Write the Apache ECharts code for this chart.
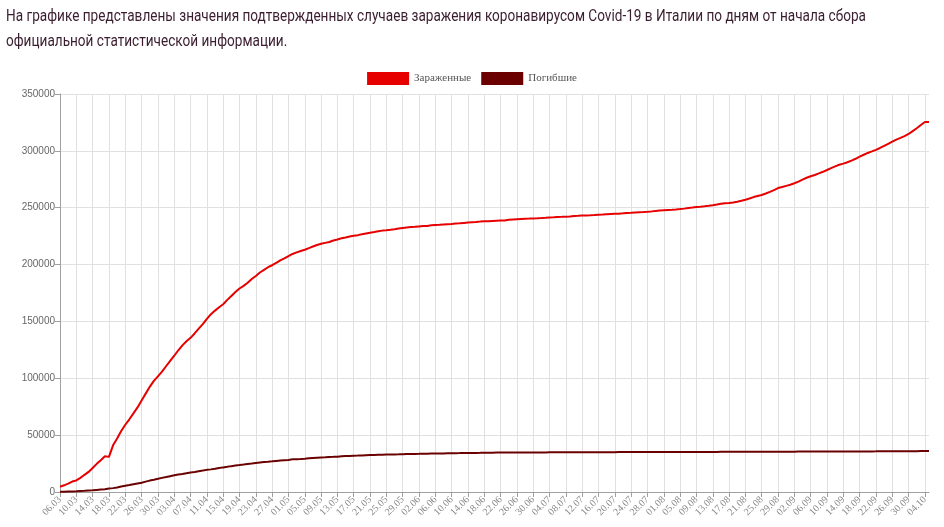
<!DOCTYPE html>
<html>
<head>
<meta charset="utf-8">
<script src="https://cdn.jsdelivr.net/npm/echarts@6/dist/echarts.min.js"></script>
<style>
html,body{margin:0;padding:0;background:#fff;}
.tline{position:absolute;left:6px;white-space:nowrap;font-family:"Roboto","Noto Sans",sans-serif;font-size:17px;line-height:25px;color:#3a1d2e;transform-origin:0 0;}
#t1{top:3px;}
#t2{top:28px;}
#chart{position:absolute;left:0;top:0;width:944px;height:527px;}
</style>
</head>
<body>
<div id="chart"></div>
<div id="t1" class="tline">На графике представлены значения подтвержденных случаев заражения коронавирусом Covid-19 в Италии по дням от начала сбора</div>
<div id="t2" class="tline">официальной статистической информации.</div>
<script>
const seriesNames = ['Зараженные', 'Погибшие'];
const startDate = '2020-03-06';
const dayCount = 214;
const yTicks = [0, 50000, 100000, 150000, 200000, 250000, 300000, 350000];

const infected = [
  4636, 5883, 7375, 9172, 10149, 12462, 15113, 17660, 21157, 24747, 27980, 31506, 30900, 41035, 47021, 53578, 59138, 63927, 69176, 74386, 80539, 86498, 92472, 97689, 101739, 105792,
  110574, 115242, 119827, 124632, 128948, 132547, 135586, 139422, 143626, 147577, 152271, 156363, 159516, 162488, 165155, 168941, 172434, 175925, 178972, 181228, 183957, 187327, 189973, 192994, 195351, 197675, 199414, 201505, 203591, 205463,
  207428, 209328, 210717, 211938, 213013, 214457, 215858, 217185, 218268, 219070, 219814, 221216, 222104, 223096, 223885, 224760, 225435, 225886, 226699, 227364, 228006, 228658, 229327, 229858, 230158, 230555, 231139, 231732, 232248, 232664, 233019,
  233197, 233515, 233836, 234013, 234531, 234801, 234998, 235278, 235561, 235763, 236142, 236305, 236651, 236989, 237290, 237500, 237828, 238159, 238011, 238275, 238499, 238720, 238833, 239410, 239706, 239961, 240136, 240310, 240436, 240578,
  240760, 240961, 241184, 241419, 241611, 241819, 241956, 242149, 242363, 242639, 242827, 243061, 243230, 243344, 243506, 243736, 243967, 244216, 244434, 244624, 244752, 245032, 245338, 245590, 245864, 246118, 246286, 246488, 246776, 247158, 247537,
  247832, 248070, 248229, 248419, 248803, 249204, 249756, 250103, 250566, 250825, 251237, 251713, 252235, 252809, 253438, 253915, 254235, 254636, 255278, 256118, 257065, 258136, 259345, 260298, 261174, 262540, 263949, 265409, 267273, 268218, 269214,
  270189, 271515, 272912, 274644, 276338, 277634, 278784, 280153, 281583, 283180, 284796, 286297, 287753, 288761, 289990, 291442, 293025, 294932, 296569, 298156, 299506, 300897, 302537, 304323, 306235, 308104, 309870, 311364, 313011, 314861,
  317409, 319908, 322751, 325329, 325329
];

const deaths = [
  197, 233, 366, 463, 631, 827, 1016, 1266, 1441, 1809, 2158, 2503, 2978, 3405, 4032, 4825, 5476, 6077, 6820, 7503, 8165, 9134, 10023, 10779, 11591, 12428,
  13155, 13915, 14681, 15362, 15887, 16523, 17127, 17669, 18279, 18849, 19468, 19899, 20465, 21067, 21645, 22170, 22745, 23227, 23660, 24114, 24648, 25085, 25549, 25969, 26384, 26644, 26977, 27359, 27682, 27967,
  28236, 28710, 28884, 29079, 29315, 29684, 29958, 30201, 30395, 30560, 30739, 30911, 31106, 31368, 31610, 31763, 31908, 32007, 32169, 32330, 32486, 32616, 32735, 32785, 32877, 32955, 33072, 33142, 33229, 33340, 33415,
  33475, 33530, 33601, 33689, 33774, 33846, 33899, 33964, 34043, 34114, 34167, 34223, 34301, 34345, 34371, 34405, 34448, 34514, 34561, 34610, 34634, 34657, 34675, 34644, 34678, 34708, 34716, 34738, 34744, 34767,
  34788, 34818, 34833, 34854, 34861, 34869, 34899, 34914, 34926, 34938, 34945, 34954, 34967, 34984, 34997, 35017, 35028, 35042, 35045, 35058, 35073, 35082, 35092, 35097, 35102, 35107, 35112, 35123, 35129, 35132, 35141,
  35146, 35154, 35166, 35171, 35181, 35187, 35190, 35203, 35205, 35209, 35215, 35225, 35231, 35234, 35392, 35396, 35400, 35405, 35412, 35418, 35427, 35430, 35437, 35441, 35445, 35458, 35463, 35472, 35473, 35477, 35483,
  35491, 35497, 35507, 35518, 35534, 35541, 35553, 35563, 35577, 35587, 35597, 35603, 35610, 35624, 35633, 35645, 35658, 35668, 35692, 35707, 35724, 35738, 35758, 35781, 35801, 35818, 35835, 35851, 35875, 35894,
  35918, 35941, 35968, 35986, 35986
];

// calendar labels dd.mm
const categories = [];
(function(){
  const d = new Date(startDate + 'T12:00:00Z');
  for (let i = 0; i < dayCount; i++) {
    const dd = String(d.getUTCDate()).padStart(2,'0');
    const mm = String(d.getUTCMonth()+1).padStart(2,'0');
    categories.push(dd + '.' + mm);
    d.setUTCDate(d.getUTCDate() + 1);
  }
})();

// fit the heading to the narrow width of the original
(function(){
  const t1 = document.getElementById('t1');
  const t2 = document.getElementById('t2');
  const w = t1.getBoundingClientRect().width;
  const s = 860 / w;
  t1.style.transform = 'scaleX(' + s + ')';
  t2.style.transform = 'scaleX(' + s + ')';
})();

const serif = '"Liberation Serif","DejaVu Serif",serif';
const sans = '"Liberation Sans",Arial,sans-serif';
const chart = echarts.init(document.getElementById('chart'), null, {renderer:'canvas'});
chart.setOption({
  animation: false,
  backgroundColor: '#fff',
  color: ['#e60000', '#6b0000'],
  legend: {
    top: 67,
    left: 'center',
    itemWidth: 42,
    itemHeight: 13,
    itemGap: 10,
    icon: 'rect',
    textStyle: {fontFamily: serif, fontSize: 11, color: '#555'},
    data: seriesNames
  },
  grid: {left: 60, right: 15, top: 94, bottom: 35, containLabel: false},
  xAxis: {
    type: 'category',
    boundaryGap: false,
    data: categories,
    axisLine: {lineStyle: {color: '#a0a0a0'}},
    axisTick: {show: true, interval: 3, length: 5, lineStyle: {color: '#a0a0a0'}},
    axisLabel: {interval: 3, rotate: 45, fontFamily: serif, fontSize: 10, color: '#888', margin: 6},
    splitLine: {show: true, interval: 3, lineStyle: {color: '#e0e0e0', width: 1}}
  },
  yAxis: {
    type: 'value',
    min: yTicks[0],
    max: yTicks[yTicks.length-1],
    interval: yTicks[1] - yTicks[0],
    axisLine: {show: true, lineStyle: {color: '#a0a0a0'}},
    axisTick: {show: true, length: 5, lineStyle: {color: '#a0a0a0'}},
    axisLabel: {fontFamily: sans, fontSize: 10, color: '#666', margin: 5, formatter: function(v){ return String(v); }},
    splitLine: {lineStyle: {color: '#e0e0e0'}}
  },
  series: [
    {name: seriesNames[0], type: 'line', data: infected, showSymbol: false, symbol: 'none', lineStyle: {width: 2, color: '#e60000'}, itemStyle: {color: '#e60000'}},
    {name: seriesNames[1], type: 'line', data: deaths, showSymbol: false, symbol: 'none', lineStyle: {width: 2, color: '#6b0000'}, itemStyle: {color: '#6b0000'}}
  ]
});
</script>
</body>
</html>
